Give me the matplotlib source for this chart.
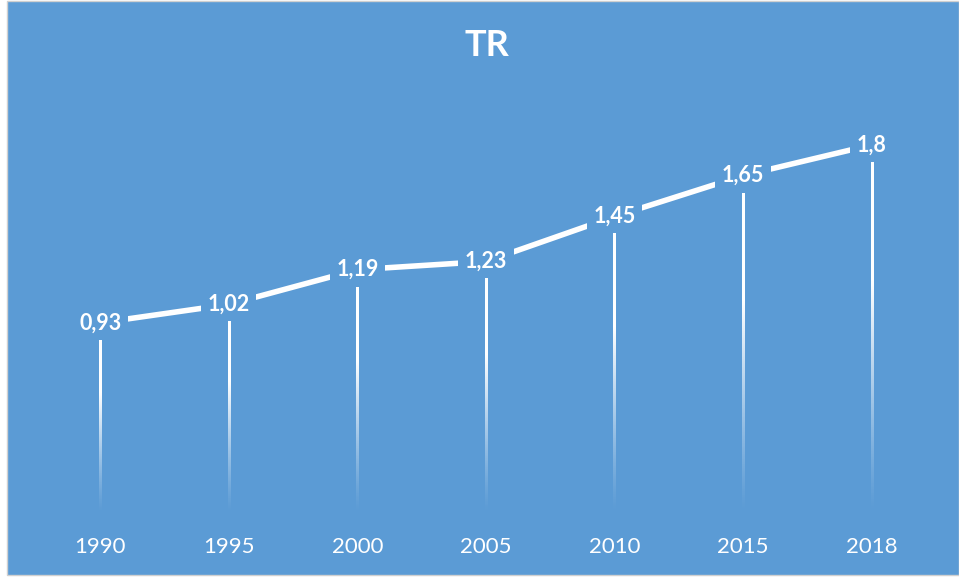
import numpy as np
import matplotlib.pyplot as plt
from matplotlib.patches import Rectangle

BLUE = '#5B9BD5'

years = ['1990', '1995', '2000', '2005', '2010', '2015', '2018']
tr_values = [0.93, 1.02, 1.19, 1.23, 1.45, 1.65, 1.8]
value_labels = ['0,93', '1,02', '1,19', '1,23', '1,45', '1,65', '1,8']

plt.rcParams['font.family'] = ['Lato', 'DejaVu Sans']

fig = plt.figure(figsize=(9.59, 5.8), dpi=100, facecolor='white')
fig.patches.append(Rectangle((6.5 / 959, 5 / 580), 1 - 6.5 / 959, 1 - 6 / 580,
                             transform=fig.transFigure, facecolor=BLUE,
                             edgecolor='#D0D0D0', lw=1, zorder=-10))

ax = fig.add_axes([36 / 959, 1 - 513 / 580, 900 / 959, 409 / 580])
ax.set_zorder(5)
ax.set_facecolor('none')

x = np.arange(len(years))

# drop lines, white at the top fading out towards the axis
grad = np.linspace(1, 0, 200)
grad = np.clip(grad * 1.6, 0, 1) ** 1.2
rgba = np.ones((200, 1, 4))
rgba[:, 0, 3] = grad
half_w = 1.1 / 128.6
for xi, v in zip(x, tr_values):
    ax.imshow(rgba, extent=(xi - half_w, xi + half_w, 0, v), aspect='auto',
              interpolation='bilinear', zorder=2, origin='upper')

ax.plot(x, tr_values, color='white', lw=4, solid_capstyle='butt', zorder=3)

for xi, v, lab in zip(x, tr_values, value_labels):
    ax.text(xi, v, lab, ha='center', va='center', color='white', fontsize=15.5,
            fontweight='bold', zorder=4,
            bbox=dict(boxstyle='square,pad=0.3', facecolor=BLUE, edgecolor='none'))

ax.set_xlim(-0.5, len(years) - 0.5)
ax.set_ylim(0, 2.0)
ax.set_xticks(x)
ax.set_xticklabels(years, color='white', fontsize=16)
ax.set_yticks([])
ax.tick_params(axis='x', length=0, pad=17)
for s in ax.spines.values():
    s.set_visible(False)

fig.text(487 / 959, 1 - 46 / 580, 'TR', ha='center', va='center', color='white',
         fontsize=26, fontweight='bold')

fig.savefig('out.png', dpi=100, facecolor=fig.get_facecolor())
